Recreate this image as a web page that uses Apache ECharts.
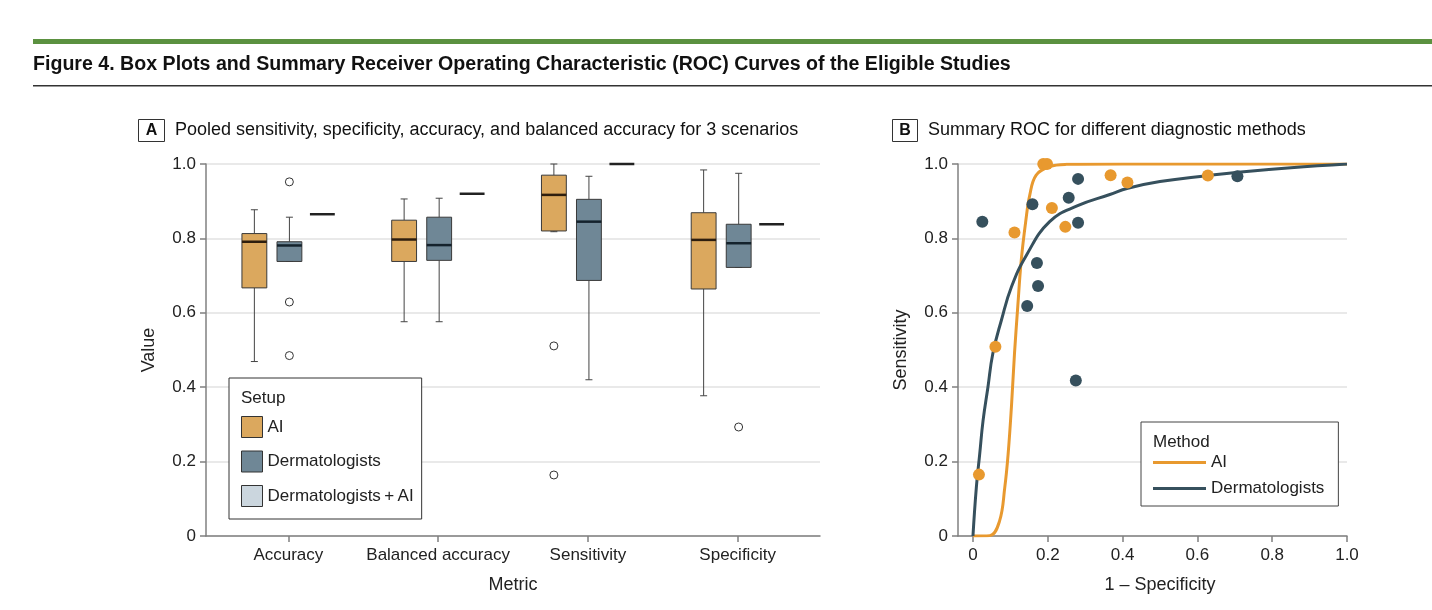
<!DOCTYPE html>
<html>
<head>
<meta charset="utf-8">
<title>Figure 4</title>
<script src="https://cdn.jsdelivr.net/npm/echarts@6.0.0/dist/echarts.min.js"></script>
<style>
html,body{margin:0;padding:0;background:#fff;}
#chart{width:1432px;height:610px;}
</style>
</head>
<body>
<div id="chart"></div>
<script>
// panel A: box statistics per metric, [min, Q1, median, Q3, max]
var metrics=['Accuracy','Balanced accuracy','Sensitivity','Specificity'];
var aiBox=[
    [0.469,0.667,0.791,0.813,0.877],
    [0.576,0.738,0.797,0.849,0.906],
    [0.818,0.820,0.917,0.970,1.000],
    [0.377,0.664,0.796,0.869,0.984]
];
var dermBox=[
    [0.738,0.738,0.781,0.791,0.857],
    [0.576,0.741,0.782,0.857,0.908],
    [0.420,0.687,0.845,0.905,0.967],
    [0.722,0.722,0.787,0.838,0.975]
];
var comboValues=[0.865,0.920,1.000,0.838];
var aiOutliers=[[2,0.511],[2,0.164]];
var dermOutliers=[[0,0.952],[0,0.629],[0,0.485],[3,0.293]];

// panel B: study points [1-specificity, sensitivity] and SROC curves
var aiPoints=[[0.016,0.165],[0.060,0.509],[0.111,0.816],[0.188,1.000],[0.198,1.000],[0.211,0.882],[0.247,0.831],[0.368,0.970],[0.413,0.950],[0.628,0.969]];
var dermPoints=[[0.025,0.845],[0.159,0.892],[0.256,0.909],[0.281,0.960],[0.281,0.842],[0.171,0.734],[0.174,0.672],[0.145,0.618],[0.275,0.418],[0.707,0.967]];
var aiCurve=[[0,0],[0.045,0.001],[0.071,0.04],[0.085,0.13],[0.094,0.22],[0.103,0.35],[0.111,0.49],[0.120,0.62],[0.129,0.74],[0.141,0.845],[0.152,0.917],[0.169,0.970],[0.205,0.993],[0.25,0.999],[0.4,1],[1,1]];
var dermCurve=[[0,0],[0.009,0.13],[0.018,0.22],[0.027,0.31],[0.040,0.40],[0.053,0.49],[0.076,0.58],[0.103,0.67],[0.143,0.755],[0.205,0.845],[0.28,0.888],[0.366,0.918],[0.414,0.935],[0.5,0.953],[0.628,0.969],[0.709,0.978],[0.85,0.99],[1,1]];

var tickValues=[0,0.2,0.4,0.6,0.8,1];

var FONT='"Liberation Sans", Arial, sans-serif';
var C_AI='#dba85e', C_DERM='#6f8796', C_COMBO='#cbd6de';
var C_AI_LINE='#e8992f', C_DERM_LINE='#36505d';

function fmt(v){
    return v===0?'0':v.toFixed(1);
}

function boxRows(list){
    var rows=[];
    for(var i=0;i<list.length;i++){
        rows.push([i].concat(list[i]));
    }
    return rows;
}

function boxItem(offset,fill,medianColor){                                  //draws one box with whiskers
    return function(params,api){
        var idx=api.value(0);
        var band=api.size([1,0])[0];
        var x=api.coord([idx,0])[0]+band*offset;
        var half=band*0.083;
        var cap=3.5;
        var yMin=api.coord([idx,api.value(1)])[1];
        var yQ1=api.coord([idx,api.value(2)])[1];
        var yMed=api.coord([idx,api.value(3)])[1];
        var yQ3=api.coord([idx,api.value(4)])[1];
        var yMax=api.coord([idx,api.value(5)])[1];
        var ln={stroke:'#444',lineWidth:1};
        return {type:'group',children:[
            {type:'line',shape:{x1:x,y1:yMax,x2:x,y2:yQ3},style:ln},
            {type:'line',shape:{x1:x,y1:yQ1,x2:x,y2:yMin},style:ln},
            {type:'line',shape:{x1:x-cap,y1:yMax,x2:x+cap,y2:yMax},style:ln},
            {type:'line',shape:{x1:x-cap,y1:yMin,x2:x+cap,y2:yMin},style:ln},
            {type:'rect',shape:{x:x-half,y:yQ3,width:half*2,height:yQ1-yQ3},style:{fill:fill,stroke:'#3a3a3a',lineWidth:1}},
            {type:'line',shape:{x1:x-half,y1:yMed,x2:x+half,y2:yMed},style:{stroke:medianColor,lineWidth:2.5}}
        ]};
    };
}

function comboItem(offset){                                                 //collapsed box: single line
    return function(params,api){
        var idx=api.value(0);
        var band=api.size([1,0])[0];
        var x=api.coord([idx,0])[0]+band*offset;
        var half=band*0.083;
        var y=api.coord([idx,api.value(1)])[1];
        return {type:'line',shape:{x1:x-half,y1:y,x2:x+half,y2:y},style:{stroke:'#222',lineWidth:2.5}};
    };
}

var comboRows=[];
for(var i=0;i<comboValues.length;i++){
    comboRows.push([i,comboValues[i]]);
}

var gridLine={show:true,lineStyle:{color:'#e2e2e2',width:1.5}};
var axisLn={show:true,onZero:false,lineStyle:{color:'#808080',width:1.5}};
var tick={show:true,length:6,lineStyle:{color:'#808080',width:1.5}};
var nameStyle={fontFamily:FONT,fontSize:18,color:'#222'};

var option={
    animation:false,
    backgroundColor:'#fff',
    textStyle:{fontFamily:FONT},
    grid:[
        {left:206,top:164,width:614,height:372},
        {left:958,top:164,width:389,height:372}
    ],
    xAxis:[
        {
            type:'value',gridIndex:0,min:-0.55,max:3.55,
            axisLine:axisLn,
            axisTick:{show:true,length:6,lineStyle:{color:'#808080',width:1.5},customValues:[0,1,2,3]},
            axisLabel:{customValues:[0,1,2,3],formatter:function(v){return metrics[v];},margin:11,fontFamily:FONT,fontSize:17,color:'#222'},
            splitLine:{show:false},
            name:'Metric',nameLocation:'middle',nameGap:40,
            nameTextStyle:nameStyle
        },
        {
            type:'value',gridIndex:1,min:-0.04,max:1,
            axisLine:axisLn,
            axisTick:{show:true,length:6,lineStyle:{color:'#808080',width:1.5},customValues:tickValues},
            axisLabel:{customValues:tickValues,formatter:fmt,margin:11,fontFamily:FONT,fontSize:17,color:'#222'},
            splitLine:{show:false},
            name:'1 \u2013 Specificity',nameLocation:'middle',nameGap:40,
            nameTextStyle:{fontFamily:FONT,fontSize:18,color:'#222',padding:[0,0,0,15]}
        }
    ],
    yAxis:[
        {
            type:'value',gridIndex:0,min:0,max:1,interval:0.2,
            axisLine:axisLn,axisTick:tick,
            axisLabel:{formatter:fmt,margin:10,fontFamily:FONT,fontSize:17,color:'#222'},
            splitLine:gridLine,
            name:'Value',nameLocation:'middle',nameGap:48,
            nameTextStyle:nameStyle
        },
        {
            type:'value',gridIndex:1,min:0,max:1,interval:0.2,
            axisLine:axisLn,axisTick:tick,
            axisLabel:{formatter:fmt,margin:10,fontFamily:FONT,fontSize:17,color:'#222'},
            splitLine:gridLine,
            name:'Sensitivity',nameLocation:'middle',nameGap:48,
            nameTextStyle:nameStyle
        }
    ],
    legend:[
        {
            orient:'vertical',left:229,top:378,
            padding:[38,8,12,12],
            itemWidth:21,itemHeight:21,itemGap:12.5,
            borderColor:'#333',borderWidth:1,backgroundColor:'#fff',
            textStyle:{fontFamily:FONT,fontSize:17,color:'#222'},
            selectedMode:false,
            data:[
                {name:'AI',icon:'rect',itemStyle:{color:C_AI,borderColor:'#333',borderWidth:1}},
                {name:'Dermatologists',icon:'rect',itemStyle:{color:C_DERM,borderColor:'#333',borderWidth:1}},
                {name:'Dermatologists\u2009+\u2009AI',icon:'rect',itemStyle:{color:C_COMBO,borderColor:'#333',borderWidth:1}}
            ]
        },
        {
            orient:'vertical',left:1141,top:422,
            padding:[32,14,9,12],
            itemWidth:53,itemHeight:3,itemGap:9,
            borderColor:'#444',borderWidth:1,backgroundColor:'#fff',
            textStyle:{fontFamily:FONT,fontSize:17,color:'#222'},
            selectedMode:false,
            data:[
                {name:'AI',icon:'rect',itemStyle:{color:C_AI_LINE,borderWidth:0}},
                {name:'Dermatologists',icon:'rect',itemStyle:{color:C_DERM_LINE,borderWidth:0}}
            ]
        }
    ],
    graphic:[
        {type:'rect',shape:{x:33,y:39,width:1399,height:5},style:{fill:'#5b9140'}},
        {type:'text',x:33,y:65,style:{text:'Figure 4. Box Plots and Summary Receiver Operating Characteristic (ROC) Curves of the Eligible Studies',font:'bold 19.6px '+FONT,fill:'#111',verticalAlign:'middle'}},
        {type:'rect',shape:{x:33,y:85,width:1399,height:1.5},style:{fill:'#333'}},
        {type:'rect',shape:{x:138.5,y:119.5,width:26,height:22},style:{fill:'#fff',stroke:'#333',lineWidth:1}},
        {type:'text',x:151.5,y:131,style:{text:'A',font:'bold 16px '+FONT,fill:'#111',align:'center',verticalAlign:'middle'}},
        {type:'text',x:175,y:130,style:{text:'Pooled sensitivity, specificity, accuracy, and balanced accuracy for 3 scenarios',font:'18px '+FONT,fill:'#111',verticalAlign:'middle'}},
        {type:'rect',shape:{x:892.5,y:119.5,width:25,height:22},style:{fill:'#fff',stroke:'#333',lineWidth:1}},
        {type:'text',x:905,y:131,style:{text:'B',font:'bold 16px '+FONT,fill:'#111',align:'center',verticalAlign:'middle'}},
        {type:'text',x:928,y:130,style:{text:'Summary ROC for different diagnostic methods',font:'18px '+FONT,fill:'#111',verticalAlign:'middle'}},
        {type:'text',x:241,y:398,z:100,style:{text:'Setup',font:'17px '+FONT,fill:'#222',verticalAlign:'middle'}},
        {type:'text',x:1153,y:442,z:100,style:{text:'Method',font:'17px '+FONT,fill:'#222',verticalAlign:'middle'}}
    ],
    series:[
        {
            name:'AI',type:'custom',xAxisIndex:0,yAxisIndex:0,
            itemStyle:{color:C_AI},
            renderItem:boxItem(-0.227,C_AI,'#2e1e0e'),
            encode:{x:0,y:[1,2,3,4,5]},
            data:boxRows(aiBox)
        },
        {
            name:'Dermatologists',type:'custom',xAxisIndex:0,yAxisIndex:0,
            itemStyle:{color:C_DERM},
            renderItem:boxItem(0.007,C_DERM,'#14222c'),
            encode:{x:0,y:[1,2,3,4,5]},
            data:boxRows(dermBox)
        },
        {
            name:'Dermatologists\u2009+\u2009AI',type:'custom',xAxisIndex:0,yAxisIndex:0,
            itemStyle:{color:C_COMBO},
            renderItem:comboItem(0.227),
            encode:{x:0,y:1},
            data:comboRows
        },
        {
            name:'AI outliers',type:'scatter',xAxisIndex:0,yAxisIndex:0,
            symbol:'circle',symbolSize:8,symbolOffset:[-34,0],
            itemStyle:{color:'#fff',borderColor:'#333',borderWidth:1,opacity:1},
            data:aiOutliers
        },
        {
            name:'Dermatologists outliers',type:'scatter',xAxisIndex:0,yAxisIndex:0,
            symbol:'circle',symbolSize:8,symbolOffset:[1,0],
            itemStyle:{color:'#fff',borderColor:'#333',borderWidth:1,opacity:1},
            data:dermOutliers
        },
        {
            name:'AI',type:'line',xAxisIndex:1,yAxisIndex:1,
            smooth:0.4,showSymbol:false,
            lineStyle:{color:C_AI_LINE,width:3},itemStyle:{color:C_AI_LINE},
            data:aiCurve,z:2
        },
        {
            name:'Dermatologists',type:'line',xAxisIndex:1,yAxisIndex:1,
            smooth:0.45,showSymbol:false,
            lineStyle:{color:C_DERM_LINE,width:3},itemStyle:{color:C_DERM_LINE},
            data:dermCurve,z:2
        },
        {
            name:'AI studies',type:'scatter',xAxisIndex:1,yAxisIndex:1,
            symbolSize:12,itemStyle:{color:C_AI_LINE,opacity:1},
            data:aiPoints,z:3
        },
        {
            name:'Dermatologist studies',type:'scatter',xAxisIndex:1,yAxisIndex:1,
            symbolSize:12,itemStyle:{color:C_DERM_LINE,opacity:1},
            data:dermPoints,z:3
        }
    ]
};

var myChart=echarts.init(document.getElementById('chart'));
myChart.setOption(option);
</script>
</body>
</html>
